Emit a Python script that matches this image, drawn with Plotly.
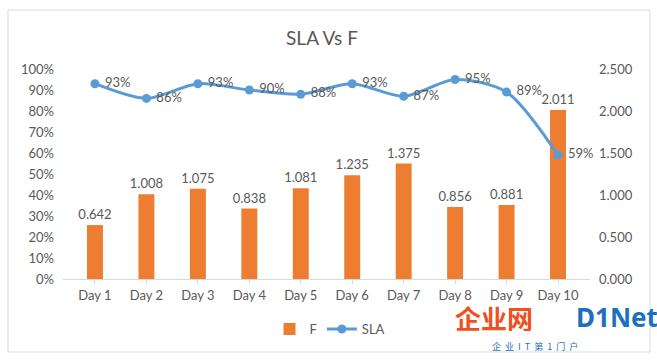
import plotly.graph_objects as go

days = ["Day 1", "Day 2", "Day 3", "Day 4", "Day 5", "Day 6", "Day 7", "Day 8", "Day 9", "Day 10"]
f_values = [0.642, 1.008, 1.075, 0.838, 1.081, 1.235, 1.375, 0.856, 0.881, 2.011]
sla_values = [0.93, 0.86, 0.93, 0.90, 0.88, 0.93, 0.87, 0.95, 0.89, 0.59]
left_ticks = [0, 0.1, 0.2, 0.3, 0.4, 0.5, 0.6, 0.7, 0.8, 0.9, 1.0]
right_ticks = [0, 0.5, 1.0, 1.5, 2.0, 2.5]

W, H = 657, 361
L, R, T, B = 63, 590, 69, 279
pw, ph = R - L, B - T

def px(x):
    return (x - L) / pw

def py(y):
    return (B - y) / ph

grey = "#595959"
font = "Lato, 'Open Sans', sans-serif"

fig = go.Figure()
fig.add_trace(go.Bar(
    x=days, y=f_values, name="F", yaxis="y",
    marker=dict(color="#ED7D31", line=dict(width=0)),
    width=0.31,
    text=[f"{v:.3f}" for v in f_values], textposition="outside",
    constraintext="none",
    textfont=dict(color=grey, size=13, family=font),
    cliponaxis=False,
))
fig.add_trace(go.Scatter(
    x=days, y=sla_values, name="SLA", yaxis="y2",
    mode="lines+markers+text",
    line=dict(color="#5B9BD5", width=3, shape="spline", smoothing=0.8),
    marker=dict(color="#5B9BD5", size=9),
    text=[f" {round(v*100)}%" for v in sla_values], textposition="middle right",
    textfont=dict(color=grey, size=13, family=font),
    cliponaxis=False,
))

fig.update_layout(
    width=W, height=H,
    margin=dict(l=L, r=W - R, t=T, b=H - B, autoexpand=False),
    paper_bgcolor="white", plot_bgcolor="white",
    font=dict(family=font, color=grey, size=13),
    title=dict(text="SLA Vs F", x=px(322), xref="paper", xanchor="center",
               y=1 - 38 / H, yanchor="middle",
               font=dict(size=19, color=grey, family=font)),
    bargap=0.69,
    showlegend=True,
    legend=dict(orientation="h", x=px(330), xanchor="center", y=py(329), yanchor="middle",
                font=dict(size=13, color=grey, family=font), bgcolor="rgba(0,0,0,0)"),
    xaxis=dict(showgrid=False, showline=True, linecolor="#d9d9d9", linewidth=1,
               ticks="outside", tickcolor="#d9d9d9", ticklen=4,
               tickfont=dict(size=13, color=grey, family=font), fixedrange=True),
    yaxis=dict(side="right", range=[0, 2.5], tickvals=right_ticks,
               ticktext=[f"{v:.3f}" for v in right_ticks],
               showgrid=False, zeroline=False, showline=False,
               tickfont=dict(size=13, color=grey, family=font), ticklabelstandoff=8),
    yaxis2=dict(side="left", overlaying="y", range=[0, 1.0], tickvals=left_ticks,
                ticktext=[f"{round(v*100)}%" for v in left_ticks],
                showgrid=False, zeroline=False, showline=False,
                tickfont=dict(size=13, color=grey, family=font), ticklabelstandoff=8),
    shapes=[dict(type="rect", xref="paper", yref="paper",
                 x0=px(8), x1=px(650), y0=py(352), y1=py(10),
                 line=dict(color="#d9d9d9", width=1), fillcolor="rgba(0,0,0,0)", layer="below")],
    annotations=[
        dict(text="<b>企业网</b>", xref="paper", yref="paper", x=px(535), y=py(333),
             showarrow=False, height=28, font=dict(size=26, color="#F0501E", family="Noto Sans CJK SC")),
        dict(text="<b>D1Net</b>", xref="paper", yref="paper", x=px(574), xanchor="left", y=py(333),
             showarrow=False, height=28, font=dict(size=26, color="#1E6FC0", family="Noto Sans")),
        dict(text="企  业  I  T  第  1  门  户", xref="paper", yref="paper", x=px(580), y=py(355),
             showarrow=False, font=dict(size=9, color="#1E6FC0", family="Noto Sans CJK SC")),
    ],
)

fig.write_html("out.html", config={"displayModeBar": False},
               post_script="document.body.style.margin='0';document.body.style.overflow='hidden';")
